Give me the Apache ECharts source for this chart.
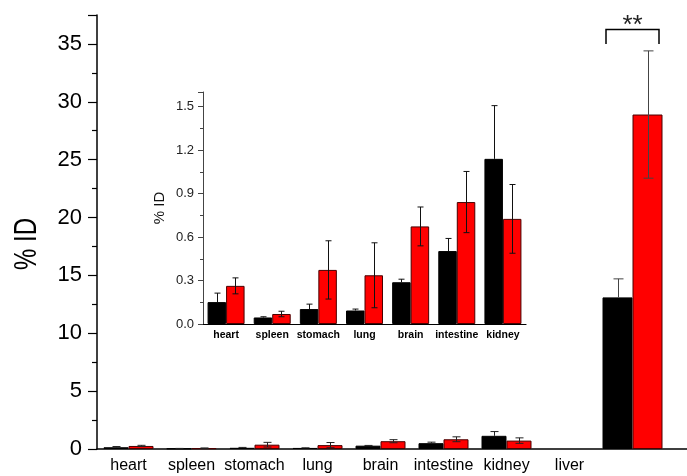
<!DOCTYPE html>
<html><head><meta charset="utf-8">
<script src="https://cdn.jsdelivr.net/npm/echarts@6/dist/echarts.min.js"></script>
<style>html,body{margin:0;padding:0;background:#fff}#c{width:687px;height:476px}</style>
</head><body><div id="c"></div>
<script>
// ---- data ----
const organs = ['heart', 'spleen', 'stomach', 'lung', 'brain', 'intestine', 'kidney', 'liver'];
const blackMean = [0.151, 0.045, 0.103, 0.093, 0.288, 0.503, 1.139, 13.1];
const blackErr  = [0.062, 0.005, 0.034, 0.010, 0.021, 0.087, 0.367, 1.6];
const redMean   = [0.263, 0.069, 0.373, 0.336, 0.673, 0.841, 0.725, 28.9];
const redErr    = [0.055, 0.019, 0.201, 0.224, 0.134, 0.211, 0.237, 5.5];
const mainYTicks  = [0, 5, 10, 15, 20, 25, 30, 35];
const insetYTicks = [0.0, 0.3, 0.6, 0.9, 1.2, 1.5];
const sigText = '**';
const sigLevel = 36.3, sigLegLevel = 35;

// ---- layout / style ----
const FONT = '"Liberation Sans", Arial, Helvetica, sans-serif';
const nSmall = 7;                       // organs shown in inset
const liverIdx = 7;
const mainCats = organs.concat(['', '']);   // 'liver' label slot, then liver bar slot
const liverSlot = 8;
const insetCats = organs.slice(0, nSmall);
const BW_MAIN = 25, BW_LIVER = 30, BW_INSET = 18.5;
const RED = '#ff0000', RED_BORDER = '#4a0000';

function pad(arr, n) { const a = arr.slice(); while (a.length < n) a.push(null); return a; }
const mainBlack = pad(blackMean.slice(0, nSmall), mainCats.length);
const mainRed = pad(redMean.slice(0, nSmall), mainCats.length);
const liverBlack = mainCats.map((_, i) => i === liverSlot ? blackMean[liverIdx] : null);
const liverRed = mainCats.map((_, i) => i === liverSlot ? redMean[liverIdx] : null);

function errData(means, errs, idxs, slotOf) {
  return idxs.map(i => [slotOf(i), means[i], errs[i]]);
}
const smallIdx = organs.slice(0, nSmall).map((_, i) => i);

function errSeries(xi, yi, data, sign, barW, cap, color, upOnly) {
  return {
    type: 'custom', xAxisIndex: xi, yAxisIndex: yi, z: 5, silent: true,
    data: data,
    renderItem: function (params, api) {
      const x = api.value(0), m = api.value(1), e = api.value(2);
      const c = api.coord([x, m]);
      const top = api.coord([x, m + e])[1];
      const bot = upOnly ? c[1] : api.coord([x, Math.max(m - e, 0)])[1];
      const cx = Math.round(c[0] + sign * barW / 2) + 0.5;
      const st = { stroke: color, lineWidth: 1 };
      const ch = [
        { type: 'line', shape: { x1: cx, y1: top, x2: cx, y2: bot }, style: st },
        { type: 'line', shape: { x1: cx - cap, y1: top, x2: cx + cap, y2: top }, style: st }
      ];
      if (!upOnly) ch.push({ type: 'line', shape: { x1: cx - cap, y1: bot, x2: cx + cap, y2: bot }, style: st });
      return { type: 'group', children: ch };
    }
  };
}

const chart = echarts.init(document.getElementById('c'));
chart.setOption({
  animation: false,
  backgroundColor: '#fff',
  textStyle: { fontFamily: FONT },
  grid: [
    { left: 97, top: 15, bottom: 27, width: 630, right: 'auto', outerBoundsMode: 'none', containLabel: false },
    { left: 203, top: 92, bottom: 152, right: 161, outerBoundsMode: 'none', containLabel: false }
  ],
  xAxis: [
    { gridIndex: 0, type: 'category', data: mainCats,
      axisLine: { lineStyle: { color: '#000', width: 1.5 } },
      axisTick: { show: false },
      axisLabel: { interval: 0, color: '#000', fontSize: 16, fontFamily: FONT, margin: 9 } },
    { gridIndex: 0, type: 'category', data: mainCats, show: false },
    { gridIndex: 1, type: 'category', data: insetCats,
      axisLine: { lineStyle: { color: '#000', width: 1.2 } },
      axisTick: { show: false },
      axisLabel: { interval: 0, color: '#000', fontSize: 10.5, fontWeight: 'bold', fontFamily: FONT, margin: 6 } }
  ],
  yAxis: [
    { gridIndex: 0, type: 'value', min: 0, max: 37.5, interval: 5,
      axisLine: { show: true, lineStyle: { color: '#000', width: 1.5 } },
      axisTick: { show: true, length: 9, lineStyle: { color: '#000', width: 1.2 } },
      minorTick: { show: true, splitNumber: 2, length: 5, lineStyle: { color: '#000', width: 1.2 } },
      splitLine: { show: false },
      axisLabel: { customValues: mainYTicks, color: '#000', fontSize: 22, fontFamily: FONT, margin: 15 } },
    { gridIndex: 1, type: 'value', min: 0, max: 1.6, interval: 0.3,
      name: '% ID', nameLocation: 'middle', nameRotate: 90, nameGap: 36,
      nameTextStyle: { fontSize: 15, color: '#111', fontFamily: FONT },
      axisLine: { show: true, lineStyle: { color: '#444', width: 1 } },
      axisTick: { show: true, length: 5, lineStyle: { color: '#444', width: 1 } },
      minorTick: { show: true, splitNumber: 2, length: 3, lineStyle: { color: '#444', width: 1 } },
      splitLine: { show: false },
      axisLabel: { customValues: insetYTicks, formatter: v => v.toFixed(1), color: '#222', fontSize: 13, fontFamily: FONT, margin: 9 } }
  ],
  graphic: [
    { type: 'text', x: 27, y: 244, rotation: Math.PI / 2, scaleX: 0.75,
      style: { text: '% ID', font: '32px ' + FONT, fill: '#000', align: 'center', verticalAlign: 'middle' } }
  ],
  series: [
    { type: 'bar', xAxisIndex: 0, yAxisIndex: 0, data: mainBlack, barWidth: BW_MAIN, barGap: 0,
      itemStyle: { color: '#000', borderColor: '#000', borderWidth: 1 } },
    { type: 'bar', xAxisIndex: 0, yAxisIndex: 0, data: mainRed, barWidth: BW_MAIN, barGap: 0,
      itemStyle: { color: RED, borderColor: RED_BORDER, borderWidth: 1 } },
    { type: 'bar', xAxisIndex: 1, yAxisIndex: 0, data: liverBlack, barWidth: BW_LIVER, barGap: 0,
      itemStyle: { color: '#000', borderColor: '#000', borderWidth: 1 } },
    { type: 'bar', xAxisIndex: 1, yAxisIndex: 0, data: liverRed, barWidth: BW_LIVER, barGap: 0,
      itemStyle: { color: RED, borderColor: RED_BORDER, borderWidth: 1 } },
    errSeries(0, 0, errData(blackMean, blackErr, smallIdx, i => i), -1, BW_MAIN, 4, '#222', true),
    errSeries(0, 0, errData(redMean, redErr, smallIdx, i => i), 1, BW_MAIN, 4, '#222', false),
    errSeries(1, 0, errData(blackMean, blackErr, [liverIdx], () => liverSlot), -1, BW_LIVER, 5, '#444', true),
    errSeries(1, 0, errData(redMean, redErr, [liverIdx], () => liverSlot), 1, BW_LIVER, 5, '#444', false),
    { type: 'bar', xAxisIndex: 2, yAxisIndex: 1, data: blackMean.slice(0, nSmall), barWidth: BW_INSET, barGap: 0,
      itemStyle: { color: '#000', borderColor: '#000', borderWidth: 1 } },
    { type: 'bar', xAxisIndex: 2, yAxisIndex: 1, data: redMean.slice(0, nSmall), barWidth: BW_INSET, barGap: 0,
      itemStyle: { color: RED, borderColor: RED_BORDER, borderWidth: 1 } },
    errSeries(2, 1, errData(blackMean, blackErr, smallIdx, i => i), -1, BW_INSET, 3, '#111', true),
    errSeries(2, 1, errData(redMean, redErr, smallIdx, i => i), 1, BW_INSET, 3, '#111', false),
    { type: 'custom', xAxisIndex: 1, yAxisIndex: 0, z: 6, silent: true, clip: false,
      data: [[liverSlot, sigLevel, sigLegLevel]],
      renderItem: function (params, api) {
        const c = api.coord([api.value(0), api.value(1)]);
        const legY = api.coord([api.value(0), api.value(2)])[1];
        const half = 26.5, y = Math.round(c[1]) + 0.5;
        const st = { stroke: '#000', lineWidth: 1.5, fill: null };
        return { type: 'group', children: [
          { type: 'polyline', shape: { points: [[c[0] - half, legY], [c[0] - half, y], [c[0] + half, y], [c[0] + half, legY]] }, style: st },
          { type: 'text', x: c[0], y: y - 3.5, style: { text: sigText, font: '26px ' + FONT, fill: '#222', align: 'center', verticalAlign: 'middle' } }
        ] };
      }
    }
  ]
});
</script>
</body></html>
